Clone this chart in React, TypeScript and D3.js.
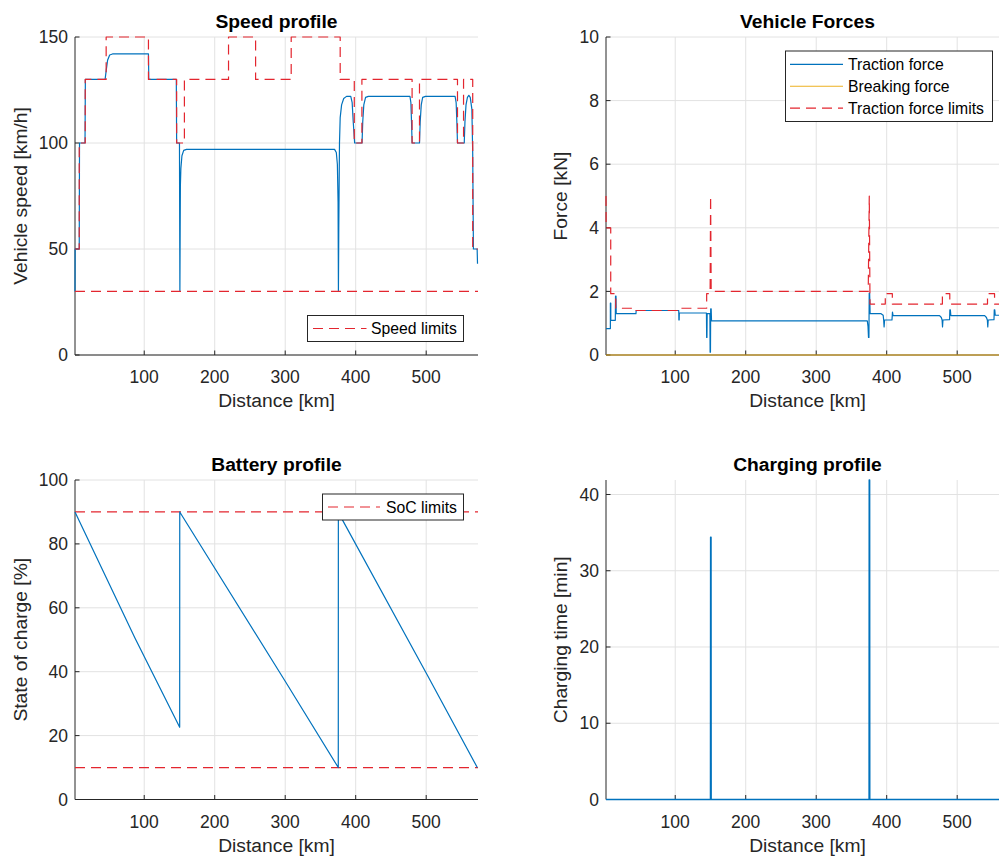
import React from 'react';
import * as d3 from 'd3';

const FONT = '"Liberation Sans", Arial, Helvetica, sans-serif';
const BLUE = '#0072BD';
const YELLOW = '#EDB120';
const RED = '#E3262F';
const AXIS = '#262626';
const GRID = '#e2e2e2';

// ---------- shared axis data ----------
const xTicks = [100, 200, 300, 400, 500];
const xDomain = [1.8, 573.5];

// ---------- Speed profile ----------
const speedKm = [1.8, 2.0, 7.8, 8.2, 16.0, 16.5, 44.5, 46, 48, 51, 55, 106, 106.5, 145.5, 146, 150.0, 150.6, 151.0, 151.3, 152, 153.5, 156, 160, 370, 372.5, 374, 375.0, 375.5, 376, 377, 378, 380, 383, 387, 393, 395, 396.5, 398.5, 409, 410, 411.5, 414, 418, 477, 478.3, 479.2, 480, 490.5, 491.5, 493, 495, 499, 541, 542.5, 543.5, 544.4, 554, 555, 556.5, 558.5, 560.5, 562.5, 564.8, 566, 567, 572.3, 572.8];
const speedKmh = [30, 50, 50, 100, 100, 130, 130, 134, 139, 141.5, 142, 142, 130, 130, 100, 100, 30, 60, 80, 88, 94, 96.5, 97, 97, 95.5, 90, 72, 30, 60, 100, 112, 118, 121, 122, 122, 119, 110, 100, 100, 110, 118, 121.5, 122, 122, 119, 110, 100, 100, 110, 118, 121.5, 122, 122, 119, 110, 100, 100, 110, 118, 121.5, 122.5, 121.5, 116, 95, 50, 50, 43];
const speedLimKm = [1.8, 7.8, 7.8, 16.3, 16.3, 46, 46, 106, 106, 146, 146, 157, 157, 219.6, 219.6, 258, 258, 308.5, 308.5, 378, 378, 398, 398, 408.8, 408.8, 480, 480, 490.5, 490.5, 544.4, 544.4, 553, 553, 566, 566, 573.5];
const speedLimKmh = [50, 50, 100, 100, 130, 130, 150, 150, 130, 130, 100, 100, 130, 130, 150, 150, 130, 130, 150, 150, 130, 130, 100, 100, 130, 130, 100, 100, 130, 130, 100, 100, 130, 130, 50, 50];
const minSpeedKm = [1.8, 573.5];
const minSpeedKmh = [30, 30];
const speedTicks = [0, 50, 100, 150];

// ---------- Vehicle forces ----------
const tractionKm = [1.8, 8.0, 8.0, 8.6, 8.6, 15.0, 15.3, 16.0, 16.3, 44.3, 44.6, 105, 105.2, 105.6, 105.8, 144.3, 144.6, 145.0, 145.3, 149.2, 149.5, 150.0, 150.3, 151.0, 151.5, 372.5, 373.5, 374.2, 374.8, 375.2, 375.8, 376.5, 392, 395, 395.7, 396.3, 397, 407.5, 408.2, 409, 475, 477.5, 478.6, 479.2, 479.8, 489.2, 489.6, 490.3, 491, 539, 541.5, 542.8, 543.4, 544, 552.2, 552.6, 553.3, 554, 573.5];
const tractionKN = [0.83, 0.83, 1.63, 1.63, 1.09, 1.09, 1.85, 1.85, 1.30, 1.30, 1.40, 1.40, 1.10, 1.10, 1.32, 1.32, 0.55, 0.55, 1.30, 1.30, 0.09, 0.09, 1.45, 1.45, 1.07, 1.07, 0.9, 0.55, 0.55, 1.95, 1.95, 1.30, 1.30, 1.25, 1.1, 0.88, 1.10, 1.10, 1.35, 1.24, 1.24, 1.18, 1.1, 0.88, 1.1, 1.11, 1.42, 1.42, 1.24, 1.24, 1.18, 1.1, 0.88, 1.1, 1.11, 1.42, 1.42, 1.25, 1.25];
const breakingKm = [1.8, 573.5];
const breakingKN = [0, 0];
const forceLimKm = [1.8, 2.0, 8.5, 8.5, 15.6, 15.6, 44.3, 44.3, 105, 105, 144.6, 144.6, 149.5, 150.2, 151.0, 373.8, 375.3, 376.3, 398, 398, 408, 408, 479, 479, 489.5, 489.5, 543, 543, 553, 553, 566, 566, 573.5];
const forceLimKN = [5.0, 4.0, 4.0, 1.93, 1.93, 1.47, 1.47, 1.40, 1.40, 1.47, 1.47, 1.93, 1.93, 5.0, 2.0, 2.0, 5.0, 1.6, 1.6, 1.93, 1.93, 1.6, 1.6, 1.93, 1.93, 1.6, 1.6, 1.93, 1.93, 1.6, 1.6, 4.0, 4.0];
const forceTicks = [0, 2, 4, 6, 8, 10];

// ---------- Battery ----------
const socKm = [1.8, 87, 150.3, 150.4, 300, 375.3, 375.4, 380, 500, 572.5];
const socPct = [90, 50.5, 22.6, 90, 37.0, 10, 89, 88, 39.6, 10];
const socMaxKm = [1.8, 573.5];
const socMax = [90, 90];
const socMinKm = [1.8, 573.5];
const socMin = [10, 10];
const socTicks = [0, 20, 40, 60, 80, 100];

// ---------- Charging ----------
const chargeKm = [1.8, 149.9, 150.1, 150.9, 151.1, 374.9, 375.1, 375.9, 376.1, 573.5];
const chargeMin = [0, 0, 34.4, 34.4, 0, 0, 41.9, 41.9, 0, 0];
const chargeTicks = [0, 10, 20, 30, 40];

type Series = { xs: number[]; ys: number[]; color: string; width: number; dash?: string };
type LegendItem = { label: string; color: string; width: number; dash?: string };
type Legend = { x: number; y: number; w: number; h: number; lineX0: number; lineX1: number; textX: number; items: LegendItem[] };

const zip = (a: number[], b: number[]): [number, number][] => a.map((v, i) => [v, b[i]]);

function Panel(props: {
  box: [number, number, number, number];
  yDomain: [number, number];
  yTicks: number[];
  title: string;
  yLabel: string;
  yLabelGap: number;
  series: Series[];
  legend?: Legend;
}) {
  const { box, yDomain, yTicks, title, yLabel, yLabelGap, series, legend } = props;
  const [L, R, T, B] = box;
  const x = d3.scaleLinear().domain(xDomain).range([L, R]);
  const y = d3.scaleLinear().domain(yDomain).range([B, T]);
  const line = d3.line<[number, number]>().x(d => x(d[0])).y(d => y(d[1]));
  const tick = 4.5;
  return (
    <g>
      {xTicks.map(t => (
        <line key={'gx' + t} x1={x(t)} x2={x(t)} y1={T} y2={B} stroke={GRID} strokeWidth={1} />
      ))}
      {yTicks.map(t => (
        <line key={'gy' + t} x1={L} x2={R} y1={y(t)} y2={y(t)} stroke={GRID} strokeWidth={1} />
      ))}
      <line x1={L} x2={R} y1={B} y2={B} stroke={AXIS} strokeWidth={1} />
      <line x1={L} x2={L} y1={T} y2={B} stroke={AXIS} strokeWidth={1} />
      {xTicks.map(t => (
        <g key={'tx' + t}>
          <line x1={x(t)} x2={x(t)} y1={B} y2={B - tick} stroke={AXIS} strokeWidth={1} />
          <text x={x(t)} y={B + 28} textAnchor="middle" fontSize={17.5} fill={AXIS} fontFamily={FONT}>{t}</text>
        </g>
      ))}
      {yTicks.map(t => (
        <g key={'ty' + t}>
          <line x1={L} x2={L + tick} y1={y(t)} y2={y(t)} stroke={AXIS} strokeWidth={1} />
          <text x={L - 7} y={y(t)} dy="0.35em" textAnchor="end" fontSize={17.5} fill={AXIS} fontFamily={FONT}>{t}</text>
        </g>
      ))}
      <text x={(L + R) / 2} y={B + 52} textAnchor="middle" fontSize={19.25} fill={AXIS} fontFamily={FONT}>Distance [km]</text>
      <text transform={`translate(${L - yLabelGap},${(T + B) / 2}) rotate(-90)`} textAnchor="middle" fontSize={19.25} fill={AXIS} fontFamily={FONT}>{yLabel}</text>
      <text x={(L + R) / 2} y={T - 8.7} textAnchor="middle" fontSize={19.25} fontWeight="bold" fill="#000" fontFamily={FONT}>{title}</text>
      {series.map((s, i) => (
        <path key={'s' + i} d={line(zip(s.xs, s.ys)) || ''} fill="none" stroke={s.color} strokeWidth={s.width} strokeDasharray={s.dash} strokeLinejoin="round" />
      ))}
      {legend && (
        <g>
          <rect x={legend.x} y={legend.y} width={legend.w} height={legend.h} fill="#fff" stroke={AXIS} strokeWidth={1} />
          {legend.items.map((it, i) => {
            const rowH = 21.8;
            const pad = (legend.h - legend.items.length * rowH) / 2;
            const cy = legend.y + pad + rowH * (i + 0.5);
            return (
              <g key={'l' + i}>
                <line x1={legend.lineX0} x2={legend.lineX1} y1={cy} y2={cy} stroke={it.color} strokeWidth={it.width} strokeDasharray={it.dash} />
                <text x={legend.textX} y={cy} dy="0.35em" fontSize={15.75} fill="#000" fontFamily={FONT}>{it.label}</text>
              </g>
            );
          })}
        </g>
      )}
    </g>
  );
}

const DASH = '10,6';

export default function App() {
  const leftX: [number, number] = [75, 478];
  const rightX: [number, number] = [606, 1009];
  const topY: [number, number] = [37, 355];
  const botY: [number, number] = [480, 799.5];
  return (
    <svg width={999} height={862} style={{ position: 'absolute', left: 0, top: 0, background: '#fff' }}>
      <rect x={0} y={0} width={999} height={862} fill="#fff" />
      <Panel
        box={[leftX[0], leftX[1], topY[0], topY[1]]}
        yDomain={[0, 150]}
        yTicks={speedTicks}
        title="Speed profile"
        yLabel="Vehicle speed [km/h]"
        yLabelGap={48}
        series={[
          { xs: speedKm, ys: speedKmh, color: BLUE, width: 1.2 },
          { xs: speedLimKm, ys: speedLimKmh, color: RED, width: 1.2, dash: DASH },
          { xs: minSpeedKm, ys: minSpeedKmh, color: RED, width: 1.2, dash: DASH },
        ]}
        legend={{ x: 307.5, y: 315.5, w: 156, h: 26, lineX0: 313, lineX1: 366.5, textX: 371, items: [{ label: 'Speed limits', color: RED, width: 1.2, dash: DASH }] }}
      />
      <Panel
        box={[rightX[0], rightX[1], topY[0], topY[1]]}
        yDomain={[0, 10]}
        yTicks={forceTicks}
        title="Vehicle Forces"
        yLabel="Force [kN]"
        yLabelGap={39}
        series={[
          { xs: breakingKm, ys: breakingKN, color: YELLOW, width: 1.2 },
          { xs: tractionKm, ys: tractionKN, color: BLUE, width: 1.2 },
          { xs: forceLimKm, ys: forceLimKN, color: RED, width: 1.2, dash: DASH },
        ]}
        legend={{
          x: 785.5, y: 51, w: 207, h: 70.5, lineX0: 790, lineX1: 843, textX: 848,
          items: [
            { label: 'Traction force', color: BLUE, width: 1.2 },
            { label: 'Breaking force', color: YELLOW, width: 1.2 },
            { label: 'Traction force limits', color: RED, width: 1.2, dash: DASH },
          ],
        }}
      />
      <Panel
        box={[leftX[0], leftX[1], botY[0], botY[1]]}
        yDomain={[0, 100]}
        yTicks={socTicks}
        title="Battery profile"
        yLabel="State of charge [%]"
        yLabelGap={48}
        series={[
          { xs: socMaxKm, ys: socMax, color: RED, width: 1.2, dash: DASH },
          { xs: socMinKm, ys: socMin, color: RED, width: 1.2, dash: DASH },
          { xs: socKm, ys: socPct, color: BLUE, width: 1.2 },
        ]}
        legend={{ x: 322.5, y: 494, w: 141, h: 26, lineX0: 328, lineX1: 380, textX: 386, items: [{ label: 'SoC limits', color: RED, width: 1.2, dash: DASH }] }}
      />
      <Panel
        box={[rightX[0], rightX[1], botY[0], botY[1]]}
        yDomain={[0, 41.9]}
        yTicks={chargeTicks}
        title="Charging profile"
        yLabel="Charging time [min]"
        yLabelGap={39}
        series={[{ xs: chargeKm, ys: chargeMin, color: BLUE, width: 1.3 }]}
      />
    </svg>
  );
}
